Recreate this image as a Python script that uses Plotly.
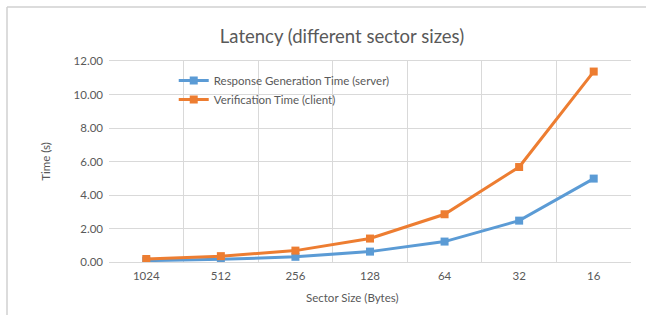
import plotly.graph_objects as go

categories = ["1024", "512", "256", "128", "64", "32", "16"]
server_times = [0.08, 0.16, 0.31, 0.62, 1.22, 2.47, 4.98]
client_times = [0.18, 0.35, 0.68, 1.40, 2.85, 5.67, 11.37]
y_ticks = [0, 2, 4, 6, 8, 10, 12]
y_tick_labels = ["0.00", "2.00", "4.00", "6.00", "8.00", "10.00", "12.00"]

BLUE = "#5B9BD5"
ORANGE = "#ED7D31"
TXT = "#595959"
GRID = "#D9D9D9"
FONT = "Lato"

fig = go.Figure()
fig.add_trace(go.Scatter(x=categories, y=server_times, mode="lines+markers",
                         name="Response Generation Time (server)",
                         line=dict(color=BLUE, width=3),
                         marker=dict(symbol="square", size=8, color=BLUE)))
fig.add_trace(go.Scatter(x=categories, y=client_times, mode="lines+markers",
                         name="Verification Time (client)",
                         line=dict(color=ORANGE, width=3),
                         marker=dict(symbol="square", size=8, color=ORANGE)))

W, H = 646, 322
fig.update_layout(
    width=W, height=H,
    margin=dict(l=109, r=15, t=61, b=60),
    paper_bgcolor="white", plot_bgcolor="white",
    font=dict(family=FONT, color=TXT, size=11),
    title=dict(text="Latency (different sector sizes)", x=342 / W, xanchor="center",
               y=1 - 37 / H, yanchor="middle", xref="container", yref="container",
               font=dict(size=18.5, color=TXT, family=FONT)),
    showlegend=True,
    legend=dict(x=0.124, y=0.975, xanchor="left", yanchor="top",
                bgcolor="rgba(0,0,0,0)", font=dict(size=11.5, color=TXT, family=FONT),
                tracegroupgap=0, itemwidth=30),
    xaxis=dict(type="category", tickson="boundaries", showgrid=True, gridcolor=GRID,
               gridwidth=1, ticks="", showline=True, linecolor=GRID, mirror=True,
               tickfont=dict(size=11.5, color=TXT), ticklabelstandoff=3,
               range=[-0.5, 6.5], fixedrange=True),
    yaxis=dict(range=[0, 12], tickvals=y_ticks, ticktext=y_tick_labels, showgrid=True,
               gridcolor=GRID, gridwidth=1, zeroline=False, showline=False, ticks="",
               tickfont=dict(size=11.5, color=TXT), ticklabelstandoff=5,
               title=dict(text="Time (s)", font=dict(size=11.5, color=TXT), standoff=20),
               fixedrange=True),
    annotations=[
        dict(text="Sector Size (Bytes)", xref="paper", yref="paper",
             x=(352 - 109) / 522, y=-(297 - 262) / 201, xanchor="center", yanchor="middle",
             showarrow=False, font=dict(size=11.5, color=TXT, family=FONT)),
    ],
    shapes=[
        dict(type="line", xref="paper", yref="paper", x0=-102 / 522, x1=1.1,
             y0=1 + 54 / 201, y1=1 + 54 / 201, layer="below",
             line=dict(color="#D0D0D0", width=1.5)),
        dict(type="line", xref="paper", yref="paper", x0=-102 / 522, x1=-102 / 522,
             y0=1 + 54 / 201, y1=-53 / 201, layer="below",
             line=dict(color="#D0D0D0", width=1.5)),
    ],
)

fig.write_html("out.html", config={"displayModeBar": False})
